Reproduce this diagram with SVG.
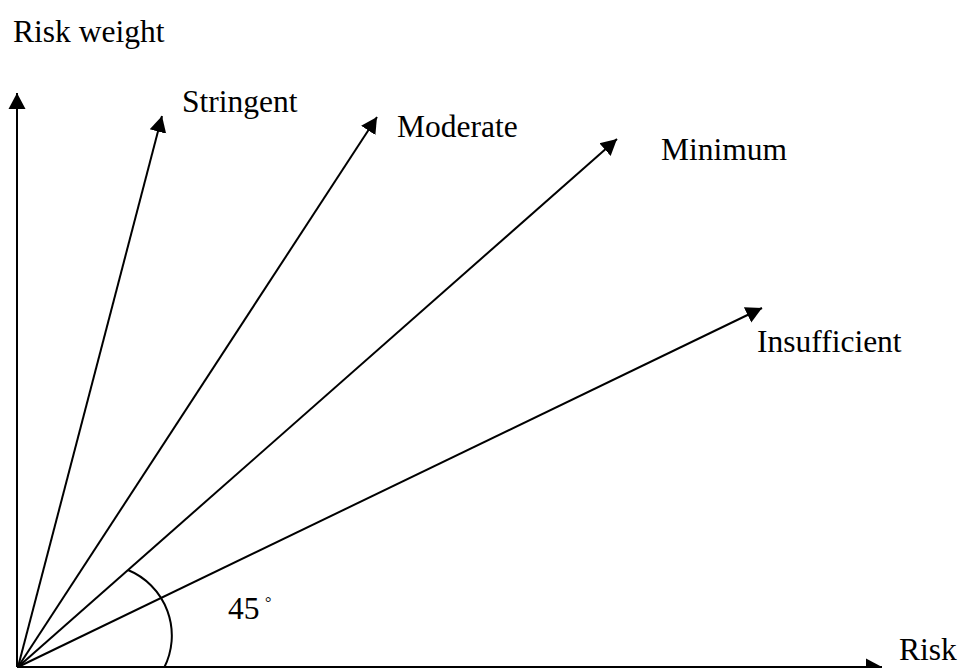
<svg xmlns="http://www.w3.org/2000/svg" width="962" height="668" viewBox="0 0 962 668">
<style>
.t{font-family:'Liberation Serif','Times New Roman',Times,'Noto Serif','DejaVu Serif',serif;font-size:31.5px;fill:#000}
.ln{stroke:#000;stroke-width:2;fill:none}
</style>
<defs>
<marker id="ah" markerUnits="userSpaceOnUse" markerWidth="18" markerHeight="18" refX="16" refY="9" orient="auto">
<path d="M0,0.5 L16,9 L0,17.5 Z" fill="#000"/>
</marker>
</defs>
<rect width="962" height="668" fill="#fff"/>
<g id="connectors">
<line class="ln" x1="17" y1="667" x2="17" y2="93" marker-end="url(#ah)"/>
<line class="ln" x1="17" y1="667" x2="882" y2="667" marker-end="url(#ah)"/>
<line class="ln" x1="18" y1="667" x2="162" y2="116" marker-end="url(#ah)"/>
<line class="ln" x1="18" y1="667" x2="377" y2="117" marker-end="url(#ah)"/>
<line class="ln" x1="18" y1="667" x2="617" y2="139" marker-end="url(#ah)"/>
<line class="ln" x1="18" y1="667" x2="762" y2="308" marker-end="url(#ah)"/>
<path class="ln" d="M128,570 A71,71 0 0 1 164,668"/>
</g>
<g id="label-riskweight"><text class="t" x="13" y="42">Risk weight</text></g>
<g id="label-stringent"><text class="t" x="182" y="112">Stringent</text></g>
<g id="label-moderate"><text class="t" x="397" y="137">Moderate</text></g>
<g id="label-minimum"><text class="t" x="661" y="160">Minimum</text></g>
<g id="label-insufficient"><text class="t" x="757" y="352">Insufficient</text></g>
<g id="label-risk"><text class="t" x="899" y="660">Risk</text></g>
<g id="label-angle"><text class="t" x="228" y="619">45<tspan x="265" y="608" font-size="16">°</tspan></text></g>
</svg>
